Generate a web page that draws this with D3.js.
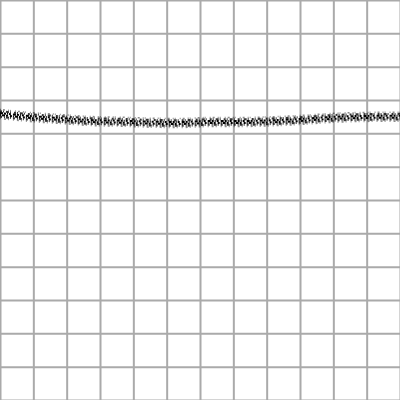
<!DOCTYPE html>
<html><head><meta charset="utf-8">
<script src="https://cdn.jsdelivr.net/npm/d3@7"></script>
<style>html,body{margin:0;padding:0;background:#fff;overflow:hidden}</style>
</head><body>
<svg id="c" width="400" height="400"></svg>
<script>
const gridTicks = [0,1,2,3,4,5,6,7,8,9,10,11,12];
const bandX = [0, 0.9, 1.8, 2.7, 3.6, 4.5, 5.4, 6.3, 7.2, 8.1, 9.0, 9.9, 10.8, 12];
const bandY = [8.58, 8.49, 8.43, 8.37, 8.35, 8.32, 8.31, 8.34, 8.34, 8.36, 8.40, 8.46, 8.49, 8.50];

const W = 400, H = 400;
const svg = d3.select("#c");
const x = d3.scaleLinear().domain([0,12]).range([0,W]);
const y = d3.scaleLinear().domain([0,12]).range([H,0]);

svg.append("g")
  .call(d3.axisTop(x).tickValues(gridTicks).tickSize(-H).tickFormat(""))
  .call(g=>g.select(".domain").remove())
  .selectAll("line").attr("stroke","#aaaaaa").attr("stroke-width",2);
svg.append("g")
  .call(d3.axisLeft(y).tickValues(gridTicks).tickSize(-W).tickFormat(""))
  .call(g=>g.select(".domain").remove())
  .selectAll("line").attr("stroke","#aaaaaa").attr("stroke-width",2);

const pts = bandX.map((v,i)=>[v,bandY[i]]);
const line = d3.line().x(d=>x(d[0])).y(d=>y(d[1])).curve(d3.curveMonotoneX);
const layers = [
  {dy:-4.5, w:1.5, dash:"1 2 2 3 1 1 1 4", op:0.45},
  {dy:-2.8, w:2,   dash:"2 1 1 2 3 1 1 3", op:0.8},
  {dy:-1,   w:2,   dash:"3 1 2 1 1 1 2 2", op:1},
  {dy:1,    w:2,   dash:"1 1 3 1 2 2 2 1", op:1},
  {dy:2.8,  w:2,   dash:"2 2 1 1 3 1 1 2", op:0.8},
  {dy:4.5,  w:1.5, dash:"1 3 2 2 1 4", op:0.45}
];
layers.forEach(l=>{
  svg.append("path").datum(pts)
    .attr("d", line)
    .attr("transform", `translate(0,${l.dy})`)
    .attr("fill","none")
    .attr("stroke","#000")
    .attr("stroke-width", l.w)
    .attr("stroke-dasharray", l.dash)
    .attr("opacity", l.op);
});
</script>
</body></html>
